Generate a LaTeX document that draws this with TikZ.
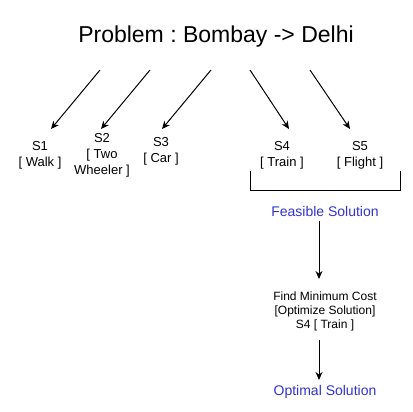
\documentclass[tikz,border=0pt]{standalone}
\usepackage{fontspec}
\setmainfont{Liberation Sans}
\usetikzlibrary{arrows.meta}
\definecolor{solblue}{RGB}{51,51,204}
\frenchspacing
\tikzset{
  lbl/.style={inner sep=0pt, align=center, font=\fontsize{13}{16}\selectfont},
  small/.style={inner sep=0pt, align=center, font=\fontsize{12}{14}\selectfont},
  blue/.style={inner sep=0pt, text=solblue, font=\fontsize{14}{16}\selectfont},
  arr/.style={draw=black, line width=1pt, -{Stealth[length=8pt,width=7pt]}},
  brk/.style={draw=black, line width=1pt}
}
\begin{document}
\begin{tikzpicture}[x=1pt,y=-1pt]
\useasboundingbox[fill=white] (0,0) rectangle (412,412);
\node[inner sep=0pt, font=\fontsize{23}{26}\selectfont] (title) at (216,37) {Problem : Bombay -> Delhi};
\node[lbl] (s1) at (40,155) {S1\\{[} Walk ]};
\node[lbl] (s2) at (102,155.5) {S2\\{[} Two\\Wheeler ]};
\node[lbl] (s3) at (161,151) {S3\\{[} Car ]};
\node[lbl] (s4) at (282,155) {S4\\{[} Train ]};
\node[lbl] (s5) at (360,155) {S5\\{[} Flight ]};
\coordinate (a1s) at (100,70); \coordinate (a1e) at (51,129);
\coordinate (a2s) at (150,70); \coordinate (a2e) at (101,129);
\coordinate (a3s) at (211,70); \coordinate (a3e) at (162,129);
\coordinate (a4s) at (250,70); \coordinate (a4e) at (289,129);
\coordinate (a5s) at (310,70); \coordinate (a5e) at (350,129);
\draw[arr] (a1s) -- (a1e);
\draw[arr] (a2s) -- (a2e);
\draw[arr] (a3s) -- (a3e);
\draw[arr] (a4s) -- (a4e);
\draw[arr] (a5s) -- (a5e);
\coordinate (bl) at (250,171);
\coordinate (br) at (400,171);
\draw[brk] (bl) |- (400,190.5) -- (br);
\node[blue] (feas) at (325,211) {Feasible Solution};
\node[small] (find) at (325,311) {Find Minimum Cost\\{[}Optimize Solution]\\S4 [ Train ]};
\node[blue] (opt) at (325,392) {Optimal Solution};
\coordinate (v1s) at (319,221); \coordinate (v1e) at (319,279);
\coordinate (v2s) at (319,340); \coordinate (v2e) at (319,380);
\draw[arr] (v1s) -- (v1e);
\draw[arr] (v2s) -- (v2e);
\end{tikzpicture}
\end{document}
